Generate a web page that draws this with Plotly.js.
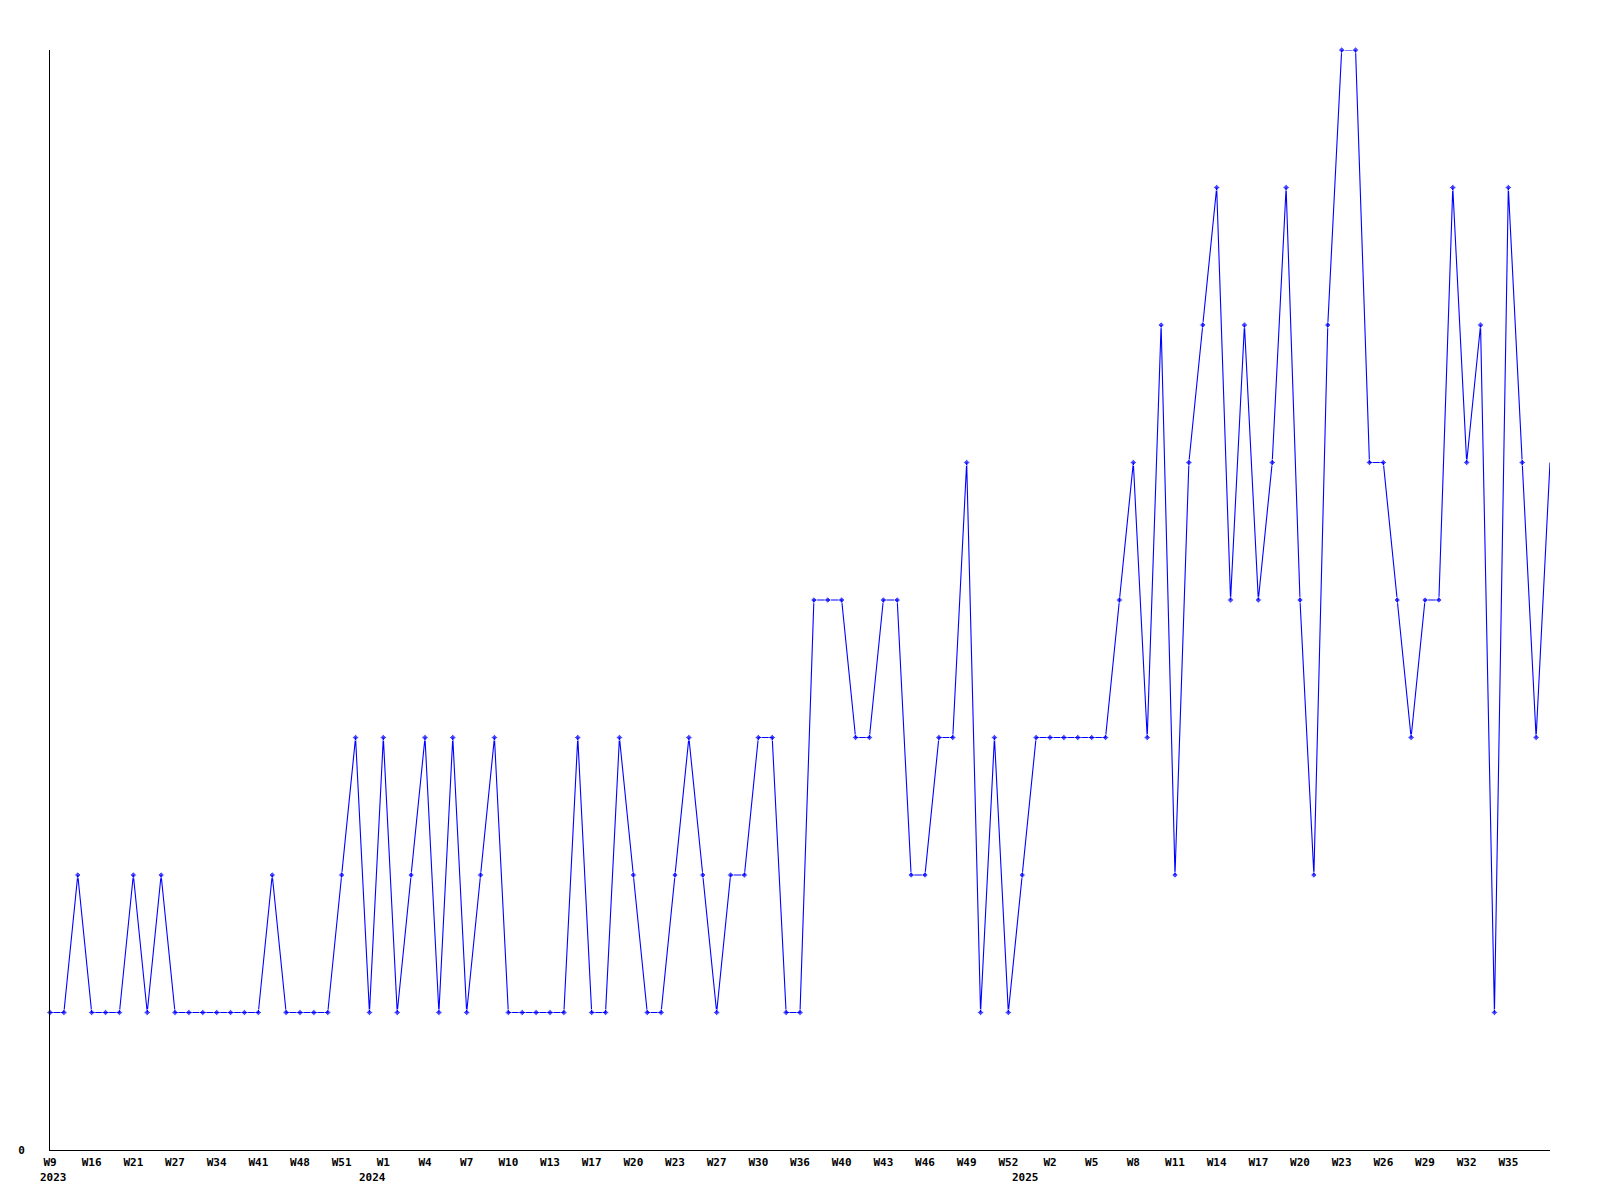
<!DOCTYPE html>
<html>
<head>
<meta charset="utf-8">
<script src="https://cdn.plot.ly/plotly-3.0.1.min.js"></script>
<style>html,body{margin:0;padding:0;background:#fff;}#chart{width:1600px;height:1200px;}</style>
</head>
<body>
<div id="chart"></div>
<script>
// Series values (one point per sample, in order)
const values = [
  1,1,2,1,1,1,2,1,2,1,
  1,1,1,1,1,1,2,1,1,1,
  1,2,3,1,3,1,2,3,1,3,
  1,2,3,1,1,1,1,1,3,1,
  1,3,2,1,1,2,3,2,1,2,
  2,3,3,1,1,4,4,4,3,3,
  4,4,2,2,3,3,5,1,3,1,
  2,3,3,3,3,3,3,4,5,3,
  6,2,5,6,7,4,6,4,5,7,
  4,2,6,8,8,5,5,4,3,4,
  4,7,5,6,1,7,5,3,5
];
// Week tick labels (every third sample)
const weekLabels = ["W9","W16","W21","W27","W34","W41","W48","W51","W1","W4","W7","W10",
  "W13","W17","W20","W23","W27","W30","W36","W40","W43","W46","W49","W52",
  "W2","W5","W8","W11","W14","W17","W20","W23","W26","W29","W32","W35"];
const weekStep = 3;
// Year labels and the sample index they sit under
const yearLabels = ["2023","2024","2025"];
const yearIndex = [0,23,70];

const xs = values.map((v,i)=>i);
const tickVals = weekLabels.map((t,k)=>k*weekStep);
const markerSizes = values.map((v,i)=> i===values.length-1 ? 0 : 5);

const tickFont = {family:"DejaVu Sans Mono", size:11, color:"#000", weight:"bold"};

const trace = {
  x: xs, y: values, type:"scatter", mode:"lines+markers",
  line:{color:"#0000ff", width:1.1},
  marker:{color:"#0000ff", symbol:"diamond", size:markerSizes},
  cliponaxis:false, hoverinfo:"skip"
};

const annotations = yearLabels.map((t,k)=>({
  x: yearIndex[k], y: 0, xref:"x", yref:"paper",
  text: t, showarrow:false, xanchor:"left", yanchor:"top",
  xshift:-12, yshift:-19, font:tickFont
}));

const layout = {
  width:1600, height:1200,
  margin:{l:50, r:50, t:50, b:50},
  paper_bgcolor:"#fff", plot_bgcolor:"#fff",
  showlegend:false,
  xaxis:{
    range:[0, values.length-1], showgrid:false, zeroline:false,
    showline:true, linecolor:"#000", linewidth:1,
    tickmode:"array", tickvals:tickVals, ticktext:weekLabels,
    ticks:"", tickfont:tickFont, tickangle:0, ticklabelstandoff:2
  },
  yaxis:{
    range:[0, 8], showgrid:false, zeroline:false,
    showline:true, linecolor:"#000", linewidth:1,
    tickmode:"array", tickvals:[0], ticktext:["0"],
    ticks:"", tickfont:tickFont, ticklabelstandoff:22
  },
  annotations: annotations
};

Plotly.newPlot("chart", [trace], layout, {staticPlot:true, displayModeBar:false});
</script>
</body>
</html>
